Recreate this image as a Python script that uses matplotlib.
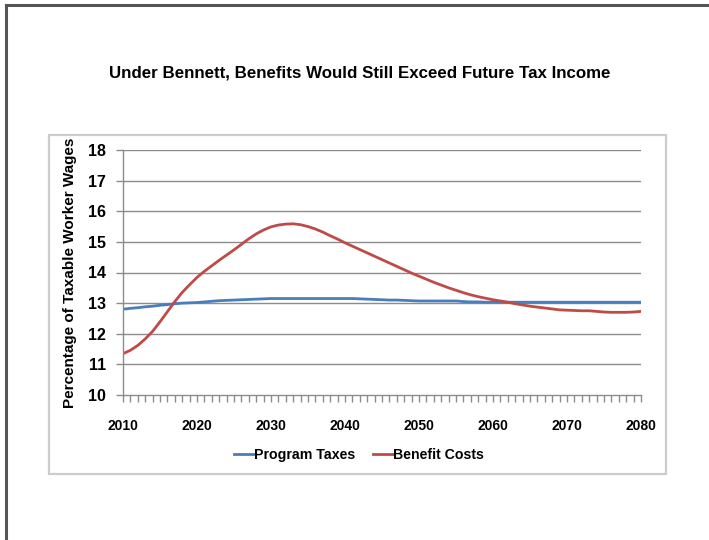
import matplotlib
matplotlib.use("Agg")
import matplotlib.pyplot as plt
from matplotlib.lines import Line2D
from matplotlib.patches import Rectangle

plt.rcParams['font.family'] = ['Liberation Sans', 'DejaVu Sans']

years = list(range(2010, 2081))

program_taxes = [
    12.80, 12.83, 12.85, 12.88, 12.90, 12.93, 12.95, 12.98, 13.00, 13.01,
    13.02, 13.04, 13.06, 13.08, 13.09, 13.10, 13.11, 13.12, 13.13, 13.14,
    13.15, 13.15, 13.15, 13.15, 13.15, 13.15, 13.15, 13.15, 13.15, 13.15,
    13.15, 13.15, 13.14, 13.13, 13.12, 13.11, 13.10, 13.10, 13.09, 13.08,
    13.07, 13.07, 13.07, 13.07, 13.07, 13.07, 13.05, 13.04, 13.04, 13.03,
    13.03, 13.03, 13.03, 13.03, 13.03, 13.03, 13.03, 13.03, 13.03, 13.03,
    13.03, 13.03, 13.03, 13.03, 13.03, 13.03, 13.03, 13.03, 13.03, 13.03,
    13.03,
]

benefit_costs = [
    11.35, 11.46, 11.62, 11.83, 12.08, 12.39, 12.72, 13.05, 13.35, 13.60,
    13.84, 14.04, 14.22, 14.40, 14.57, 14.74, 14.92, 15.10, 15.26, 15.39,
    15.49, 15.55, 15.58, 15.59, 15.56, 15.50, 15.42, 15.32, 15.20, 15.09,
    14.97, 14.86, 14.75, 14.64, 14.53, 14.42, 14.31, 14.20, 14.09, 13.98,
    13.88, 13.78, 13.68, 13.59, 13.50, 13.42, 13.34, 13.27, 13.21, 13.16,
    13.11, 13.07, 13.03, 12.98, 12.94, 12.90, 12.87, 12.84, 12.81, 12.78,
    12.77, 12.76, 12.75, 12.75, 12.73, 12.71, 12.70, 12.70, 12.70, 12.71,
    12.73,
]

title = "Under Bennett, Benefits Would Still Exceed Future Tax Income"
y_label = "Percentage of Taxable Worker Wages"
y_ticks = [10, 11, 12, 13, 14, 15, 16, 17, 18]
x_ticks = [2010, 2020, 2030, 2040, 2050, 2060, 2070, 2080]
series_names = ["Program Taxes", "Benefit Costs"]

W, H = 709, 540
fig = plt.figure(figsize=(W / 100, H / 100), dpi=100)
fig.patch.set_facecolor("white")

# outer page frame (top and left edges)
fig.add_artist(Line2D([6 / W, 6 / W], [0, 1 - 5 / H], color="#555555", lw=2.2,
                      transform=fig.transFigure))
fig.add_artist(Line2D([6 / W, 1], [1 - 5 / H, 1 - 5 / H], color="#555555", lw=2.2,
                      transform=fig.transFigure))

# chart area border
fig.add_artist(Rectangle((49 / W, 1 - 474 / H), (666 - 49) / W, (474 - 135) / H,
                         fill=False, edgecolor="#cccccc", lw=1.6,
                         transform=fig.transFigure))

ax = fig.add_axes([123 / W, 1 - 395 / H, (641 - 123) / W, (395 - 150) / H])

blue = "#4a7ebb"
red = "#be4b48"
ax.plot(years, program_taxes, color=blue, lw=2.0, label=series_names[0],
        solid_capstyle="round")
ax.plot(years, benefit_costs, color=red, lw=2.0, label=series_names[1],
        solid_capstyle="round")

ax.set_xlim(2010, 2080)
ax.set_ylim(10, 18)
ax.set_yticks(y_ticks)
ax.set_xticks(x_ticks)
ax.set_xticks(years, minor=True)
ax.set_yticklabels([str(v) for v in y_ticks], fontsize=11.5, fontweight="bold")
ax.set_xticklabels([str(v) for v in x_ticks], fontsize=10, fontweight="bold")

for v in y_ticks[1:]:
    ax.axhline(v, color="#8c8c8c", lw=1.0, zorder=0)

for s in ["top", "right"]:
    ax.spines[s].set_visible(False)
for s in ["left", "bottom"]:
    ax.spines[s].set_color("#8c8c8c")
    ax.spines[s].set_linewidth(1.0)

ax.tick_params(axis="y", which="major", length=5, width=1.0, color="#8c8c8c",
               pad=7)
ax.tick_params(axis="x", which="major", length=5, width=1.0, color="#8c8c8c",
               pad=12)
ax.tick_params(axis="x", which="minor", length=5, width=1.0, color="#8c8c8c")

ax.set_ylabel(y_label, fontsize=11, fontweight="bold", labelpad=8)

fig.text(360 / W, 1 - 73 / H, title, ha="center", va="center",
         fontsize=12.2, fontweight="bold")

handles = [Line2D([0], [0], color=blue, lw=2.0),
           Line2D([0], [0], color=red, lw=2.0)]
fig.legend(handles, series_names, loc="center",
           bbox_to_anchor=(359 / W, 1 - 455 / H), ncol=2, frameon=False,
           prop={"size": 10.2, "weight": "bold"}, handlelength=1.4,
           handletextpad=0.05, columnspacing=1.2)

fig.savefig("out.png", dpi=100, facecolor="white")
